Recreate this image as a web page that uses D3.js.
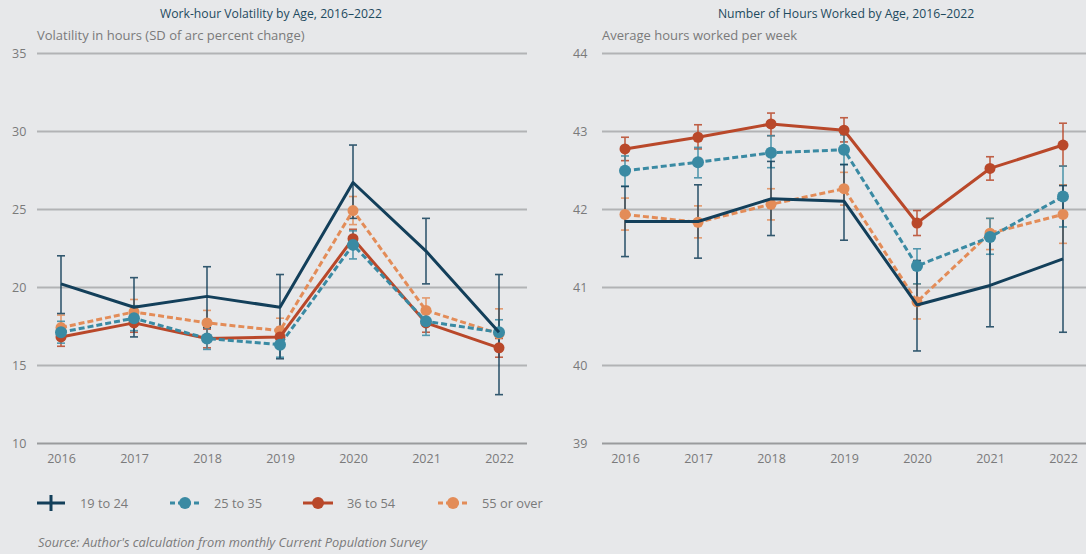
<!DOCTYPE html>
<html><head><meta charset="utf-8">
<script src="https://cdn.jsdelivr.net/npm/d3@7"></script>
<style>
html,body{margin:0;padding:0;background:#e7e8ea;}
svg{display:block;font-family:"Open Sans","Noto Sans",sans-serif;}
</style></head>
<body><svg id="c" width="1086" height="554"></svg>
<script>
const years = [2016, 2017, 2018, 2019, 2020, 2021, 2022];
const seriesNames = ["19 to 24", "25 to 35", "36 to 54", "55 or over"];

// Volatility (left)
const vol1924 = [20.2, 18.7, 19.4, 18.7, 26.7, 22.3, 17.1];
const vol1924Lo = [18.3, 16.8, 17.4, 15.4, 24.4, 20.2, 13.1];
const vol1924Hi = [22.0, 20.6, 21.3, 20.8, 29.1, 24.4, 20.8];
const vol2535 = [17.1, 18.0, 16.7, 16.3, 22.7, 17.8, 17.1];
const vol2535Lo = [16.4, 17.2, 16.0, 15.5, 21.8, 16.9, 16.3];
const vol2535Hi = [17.8, 18.8, 17.4, 17.1, 23.6, 18.6, 17.9];
const vol3654 = [16.8, 17.7, 16.7, 16.8, 23.1, 17.7, 16.1];
const vol3654Lo = [16.2, 17.1, 16.1, 16.2, 22.5, 17.1, 15.5];
const vol3654Hi = [17.4, 18.3, 17.3, 17.4, 23.7, 18.3, 16.7];
const vol55 = [17.4, 18.4, 17.7, 17.2, 24.9, 18.5, 17.0];
const vol55Lo = [16.6, 17.6, 16.9, 16.4, 24.0, 17.7, 16.0];
const vol55Hi = [18.2, 19.2, 18.5, 18.0, 25.8, 19.3, 18.6];

// Hours (right)
const hrs1924 = [41.84, 41.84, 42.13, 42.10, 40.77, 41.02, 41.36];
const hrs1924Lo = [41.39, 41.37, 41.66, 41.60, 40.18, 40.49, 40.42];
const hrs1924Hi = [42.29, 42.31, 42.61, 42.57, 41.34, 41.60, 42.30];
const hrs2535 = [42.49, 42.60, 42.72, 42.76, 41.27, 41.64, 42.16];
const hrs2535Lo = [42.29, 42.40, 42.53, 42.57, 41.04, 41.42, 41.77];
const hrs2535Hi = [42.68, 42.79, 42.94, 42.95, 41.49, 41.88, 42.55];
const hrs3654 = [42.77, 42.92, 43.09, 43.01, 41.82, 42.52, 42.82];
const hrs3654Lo = [42.62, 42.77, 42.94, 42.86, 41.66, 42.37, 42.55];
const hrs3654Hi = [42.92, 43.08, 43.23, 43.17, 41.98, 42.67, 43.10];
const hrs55 = [41.93, 41.83, 42.06, 42.26, 40.81, 41.69, 41.93];
const hrs55Lo = [41.73, 41.63, 41.86, 42.05, 40.59, 41.48, 41.56];
const hrs55Hi = [42.14, 42.04, 42.26, 42.47, 41.04, 41.88, 42.31];

const volTicks = [10, 15, 20, 25, 30, 35];
const hrsTicks = [39, 40, 41, 42, 43, 44];

const colors = ["#133f5a", "#3a8aa3", "#b9482a", "#e38c58"];
const dashed = [false, true, false, true];
const markers = [false, true, true, true];

const svg = d3.select("#c");

function panel(opts) {
  const g = svg.append("g");
  const x = d3.scalePoint().domain(years).range(opts.xr);
  const y = d3.scaleLinear().domain(opts.ydom).range([443, 53]);
  // title
  g.append("text").attr("x", opts.titleX).attr("y", 18).attr("text-anchor", "middle")
    .attr("font-size", 12.2).attr("fill", "#1e4a5e").text(opts.title);
  g.append("text").attr("x", opts.gx[0]).attr("y", 40).attr("font-size", 13)
    .attr("fill", "#7a7a7a").text(opts.sub);
  // y axis via d3 axis
  const yAxis = d3.axisLeft(y).tickValues(opts.ticks).tickSize(-(opts.gx[1] - opts.gx[0])).tickPadding(14).tickFormat(d3.format("d"));
  const ya = g.append("g").attr("transform", `translate(${opts.gx[0]},0)`).call(yAxis);
  ya.select(".domain").remove();
  ya.selectAll(".tick line").attr("stroke-width", 2)
    .attr("stroke", (d, i) => i === 0 ? "#9a9b9d" : "#b2b3b5");
  ya.selectAll(".tick text").attr("fill", "#7a7a7a").attr("font-size", 12.5)
    .attr("font-family", "'Open Sans','Noto Sans',sans-serif").attr("x", opts.labelX - opts.gx[0]).attr("text-anchor", "start");
  // x axis
  const xAxis = d3.axisBottom(x).tickSize(0).tickPadding(14).tickFormat(d3.format("d"));
  const xa = g.append("g").attr("transform", "translate(0,449)").call(xAxis);
  xa.select(".domain").remove();
  xa.selectAll(".tick text").attr("fill", "#7a7a7a").attr("font-size", 12.5)
    .attr("font-family", "'Open Sans','Noto Sans',sans-serif").attr("dy", "0");

  const order = [3, 2, 1, 0];
  // error bars
  order.forEach(si => {
    const s = opts.series[si];
    const eg = g.append("g").attr("stroke", colors[si]).attr("stroke-width", 1.6).attr("opacity", 0.85);
    years.forEach((yr, i) => {
      const cx = x(yr);
      eg.append("line").attr("x1", cx).attr("x2", cx).attr("y1", y(s.lo[i])).attr("y2", y(s.hi[i]));
      eg.append("line").attr("x1", cx - 4).attr("x2", cx + 4).attr("y1", y(s.lo[i])).attr("y2", y(s.lo[i]));
      eg.append("line").attr("x1", cx - 4).attr("x2", cx + 4).attr("y1", y(s.hi[i])).attr("y2", y(s.hi[i]));
    });
  });
  // lines and markers
  order.forEach(si => {
    const s = opts.series[si];
    const line = d3.line().x((d, i) => x(years[i])).y(d => y(d));
    g.append("path").datum(s.v).attr("d", line).attr("fill", "none")
      .attr("stroke", colors[si]).attr("stroke-width", 3)
      .attr("stroke-dasharray", dashed[si] ? "6,3" : null)
      .attr("stroke-linejoin", "round");
    if (markers[si]) {
      g.selectAll(null).data(s.v).enter().append("circle")
        .attr("cx", (d, i) => x(years[i])).attr("cy", d => y(d))
        .attr("r", si === 1 ? 6 : 5.5).attr("fill", colors[si]);
    }
  });
}

panel({
  xr: [61, 499], gx: [37, 527], labelX: 12, ydom: [10, 35], ticks: volTicks,
  title: "Work-hour Volatility by Age, 2016–2022", titleX: 271,
  sub: "Volatility in hours (SD of arc percent change)",
  series: [
    {v: vol1924, lo: vol1924Lo, hi: vol1924Hi},
    {v: vol2535, lo: vol2535Lo, hi: vol2535Hi},
    {v: vol3654, lo: vol3654Lo, hi: vol3654Hi},
    {v: vol55, lo: vol55Lo, hi: vol55Hi}
  ]
});
panel({
  xr: [625, 1063], gx: [602, 1086], labelX: 573, ydom: [39, 44], ticks: hrsTicks,
  title: "Number of Hours Worked by Age, 2016–2022", titleX: 846,
  sub: "Average hours worked per week",
  series: [
    {v: hrs1924, lo: hrs1924Lo, hi: hrs1924Hi},
    {v: hrs2535, lo: hrs2535Lo, hi: hrs2535Hi},
    {v: hrs3654, lo: hrs3654Lo, hi: hrs3654Hi},
    {v: hrs55, lo: hrs55Lo, hi: hrs55Hi}
  ]
});

// legend
const legX = [37, 170, 303, 438];
const lg = svg.append("g");
seriesNames.forEach((n, i) => {
  const x0 = legX[i], yy = 503;
  const w = i === 0 ? 28 : 30;
  lg.append("line").attr("x1", x0).attr("x2", x0 + w).attr("y1", yy).attr("y2", yy)
    .attr("stroke", colors[i]).attr("stroke-width", 3)
    .attr("stroke-dasharray", dashed[i] ? "5,3" : null);
  if (i === 0) {
    lg.append("line").attr("x1", x0 + 14).attr("x2", x0 + 14).attr("y1", yy - 8).attr("y2", yy + 8)
      .attr("stroke", colors[i]).attr("stroke-width", 3);
  } else {
    lg.append("circle").attr("cx", x0 + w / 2).attr("cy", yy).attr("r", 6).attr("fill", colors[i]);
  }
  lg.append("text").attr("x", x0 + (i === 0 ? 43 : 44)).attr("y", yy + 4.5).attr("font-size", 12.8)
    .attr("fill", "#7a7a7a").text(n);
});

svg.append("text").attr("x", 38).attr("y", 547).attr("font-size", 12.8)
  .attr("font-style", "italic").attr("fill", "#7a7a7a")
  .text("Source: Author's calculation from monthly Current Population Survey");
</script>
</body></html>
